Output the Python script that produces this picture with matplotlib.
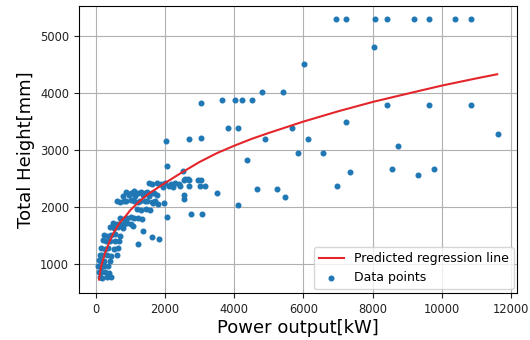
import matplotlib
matplotlib.use("Agg")
import matplotlib.pyplot as plt

# Regression line
line_x = [90, 150, 260, 400, 500, 700, 850, 1000, 1250, 1500, 2000, 2500, 3000, 3500, 4000,
          4500, 5000, 6000, 7000, 8000, 9000, 10000, 11000, 11600]
line_y = [720, 950, 1180, 1400, 1530, 1730, 1830, 1945, 2090, 2220, 2420, 2610, 2790, 2945, 3075,
          3195, 3300, 3500, 3680, 3845, 3990, 4133, 4260, 4332]

# Scatter data points
pts_x = [
    6930, 7225, 8073, 8410, 9200, 9615, 10376, 10829,
    8026, 6020, 4807, 5414,
    3035, 3642, 4017, 4210, 4509,
    8410, 9615, 10829,
    7225, 3824, 4094, 5674,
    2697, 3035, 4894, 6137, 2023,
    11628, 8719, 5829, 6551, 4355,
    7350, 8564, 9315, 9769,
    6974, 4662, 5231, 5453, 4094, 3488,
    2736, 3073,
    2428, 2543, 2697, 2543, 2543, 2697, 2957, 2997, 3150, 3035,
    2043, 2523, 2572, 2668, 2043,
    1520, 1610, 1760, 1870, 1990, 2160, 2290, 2390,
    1950, 2110, 2240,
    880, 1010, 1090, 1210, 1290, 1420, 1480, 1620, 1690,
    790, 960, 1140, 1360, 1540, 1760,
    610, 690, 820, 880, 1010, 1090, 1230, 1280, 1410, 1490, 1620, 1710,
    1660, 1790, 1960,
    1190, 1310, 1440, 1560,
    690, 810, 890, 1020, 1090, 1210, 1340,
    480, 610, 690, 820, 890, 1010,
    410, 520, 640, 790, 1060,
    1367, 1609, 1830, 1223,
    240, 360, 440, 560, 690,
    210, 290, 410, 540, 660,
    140, 260, 340, 510, 640,
    110, 190, 310, 440, 610,
    90, 160, 240, 410,
    70, 160, 240, 360,
    90, 140, 260, 390,
    110, 190, 310, 440,
]
pts_y = [
    5300, 5300, 5300, 5300, 5300, 5300, 5300, 5300,
    4811, 4504, 4021, 4021,
    3832, 3880, 3880, 3880, 3880,
    3785, 3785, 3785,
    3484, 3395, 3395, 3395,
    3189, 3212, 3189, 3189, 3160,
    3278, 3071, 2952, 2952, 2818,
    2611, 2658, 2563, 2658,
    2358, 2310, 2310, 2168, 2032, 2239,
    1867, 1867,
    2358, 2469, 2469, 2216, 2145, 2358, 2469, 2358, 2358, 2469,
    2724, 2636, 2484, 2484, 1824,
    2420, 2400, 2415, 2395, 2420, 2405, 2425, 2400,
    2340, 2360, 2345,
    2260, 2240, 2270, 2245, 2255, 2235, 2265, 2250, 2240,
    2190, 2210, 2195, 2205, 2185, 2200,
    2110, 2090, 2105, 2095, 2115, 2100, 2090, 2110, 2095, 2105, 2085, 2100,
    2060, 2050, 2065,
    1960, 1940, 1955, 1945,
    1810, 1790, 1805, 1815, 1795, 1800, 1790,
    1710, 1690, 1705, 1695, 1715, 1700,
    1650, 1630, 1645, 1635, 1655,
    1571, 1460, 1425, 1341,
    1510, 1490, 1500, 1515, 1495,
    1410, 1395, 1400, 1390, 1405,
    1280, 1265, 1275, 1260, 1270,
    1160, 1145, 1155, 1140, 1150,
    1060, 1045, 1050, 1040,
    960, 945, 950, 955,
    860, 845, 850, 840,
    770, 755, 765, 760,
]

xticks = [0, 2000, 4000, 6000, 8000, 10000, 12000]
yticks = [1000, 2000, 3000, 4000, 5000]

fig = plt.figure(figsize=(5.3, 3.4), dpi=100)
ax = fig.add_axes([0.149, 0.138, 0.827, 0.843])

ax.plot(line_x, line_y, color="#e3262b", lw=1.5, label="Predicted regression line", zorder=3)
ax.scatter(pts_x, pts_y, s=11, color="#1f77b4", label="Data points", zorder=2)

ax.set_xlim(-490, 12180)
ax.set_ylim(482, 5525)
ax.set_xticks(xticks)
ax.set_yticks(yticks)
ax.tick_params(labelsize=8.3, colors="#222222", length=3.5)
ax.grid(True, color="#b0b0b0", lw=0.8)
ax.set_axisbelow(True)

ax.set_xlabel("Power output[kW]", fontsize=13, labelpad=2)
ax.set_ylabel("Total Height[mm]", fontsize=13, labelpad=4)

ax.legend(loc="lower right", fontsize=9, handlelength=2.0, borderaxespad=0.3)

fig.savefig("out.png", dpi=100)
